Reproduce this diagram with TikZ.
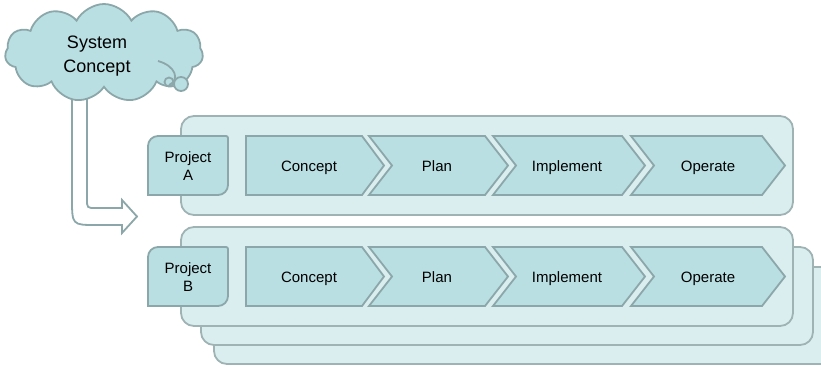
\documentclass[tikz,border=0pt]{standalone}
\usepackage{fontspec}
\setmainfont{Liberation Sans}
\usetikzlibrary{shapes.symbols}
\definecolor{stagefill}{HTML}{B9DFE3}
\definecolor{stageline}{HTML}{8CA7A9}
\definecolor{panelfill}{HTML}{DAEDEF}
\definecolor{panelline}{HTML}{A0B3B4}
\tikzset{
  stage/.style={fill=stagefill, draw=stageline, line width=1.8bp, line join=miter},
  panel/.style={fill=panelfill, draw=panelline, line width=1.8bp, rounded corners=13bp},
  tagbox/.style={fill=stagefill, draw=stageline, line width=1.8bp},
  lbl/.style={font=\fontsize{15bp}{18bp}\selectfont, inner sep=0pt, align=center},
  hollow/.style={fill=white, draw=stageline, line width=1.8bp, line join=miter},
}
\begin{document}
\begin{tikzpicture}[x=1bp,y=-1bp]
\clip (0,0) rectangle (821,367);

% bent hollow arrow leaving the cloud
\draw[hollow] (72,90) -- (72,198) .. controls (72,225) .. (96,225) -- (122,225)
  -- (122,233) -- (137,216.5) -- (122,200) -- (122,208) -- (96,208)
  .. controls (87,208) .. (87,199) -- (87,90) -- cycle;

% the system concept cloud
\node[cloud, cloud puffs=11, cloud puff arc=125, aspect=2, fill=stagefill, draw=stageline,
      line width=1.8bp, minimum width=198bp, minimum height=98bp,
      inner sep=0pt] (idea) at (104,53) {};
\node[font=\fontsize{18bp}{24bp}\selectfont, align=center, inner sep=0pt]
  (ideatext) at (97,56) {System\\Concept};
\draw[stageline, line width=1.8bp] (158,61) .. controls (176,66) and (180,80) .. (169,85);
\draw[stageline, line width=1.8bp] (169,82) circle (4.5);
\draw[stageline, fill=stagefill, line width=1.8bp] (181,84) circle (7);

% further projects stacked behind project B
\draw[panel] (214,267) rectangle (845,364);
\draw[panel] (201,247) rectangle (813,345);

\foreach \dy/\name in {0/A,111/B} {
  \begin{scope}[shift={(0,\dy)}]
    \draw[panel] (181,116) rectangle (793,215);
    \draw[tagbox] (148,195) -- (148,146) .. controls (148,140.5) and (152.5,136) .. (158,136)
      -- (226,136) .. controls (227.2,136) and (228,136.8) .. (228,138)
      -- (228,185) .. controls (228,190.5) and (223.5,195) .. (218,195) -- cycle;
    \node[lbl] (tag\name) at (188,166) {Project\\\name};
    \draw[stage] (246,136) -- (362,136) -- (384,165.5) -- (362,195) -- (246,195) -- cycle;
    \draw[stage] (369,136) -- (485,136) -- (508,165.5) -- (485,195) -- (369,195) -- (392,165.5) -- cycle;
    \draw[stage] (493,136) -- (622,136) -- (645,165.5) -- (622,195) -- (493,195) -- (516,165.5) -- cycle;
    \draw[stage] (631,136) -- (762,136) -- (785,165.5) -- (762,195) -- (631,195) -- (654,165.5) -- cycle;
    \node[lbl, anchor=base] (concept\name) at (309,171) {Concept};
    \node[lbl, anchor=base] (plan\name) at (437,171) {Plan};
    \node[lbl, anchor=base] (implement\name) at (567,171) {Implement};
    \node[lbl, anchor=base] (operate\name) at (708,171) {Operate};
  \end{scope}
}
\end{tikzpicture}
\end{document}
